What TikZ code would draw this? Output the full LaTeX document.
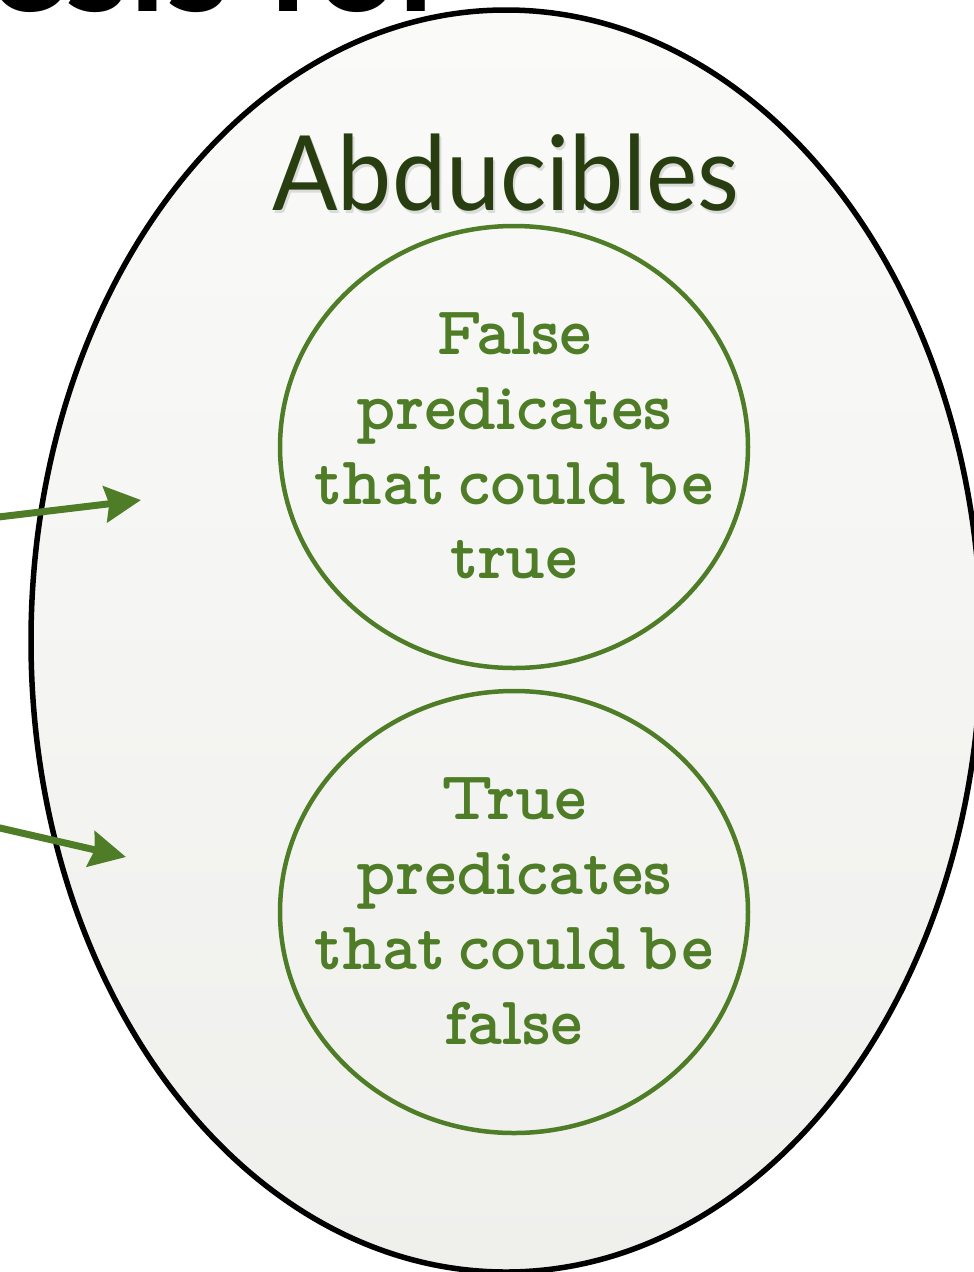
\documentclass[tikz,border=0pt]{standalone}
\usepackage{fontspec}
\usepackage{graphicx}
\newfontfamily\headfont{Lato}
\newfontfamily\bigfont{Lato Bold}
\newfontfamily\typefont{lmmonoproplt10-bold.otf}
\usetikzlibrary{arrows.meta}
\definecolor{leaf}{RGB}{79,124,38}
\definecolor{moss}{RGB}{40,62,16}
\definecolor{shelltop}{RGB}{250,251,249}
\definecolor{shellbot}{RGB}{239,240,236}
% four centred lines in the typewriter face, with tight word spaces
\newcommand{\predtext}[4]{%
  \typefont\fontsize{68.5}{74.7}\selectfont
  \spaceskip=13pt\relax
  \begin{tabular}{@{}c@{}}#1\\#2\\#3\\#4\end{tabular}}
\begin{document}
\begin{tikzpicture}[x=1pt,y=-1pt,
  predset/.style={inner sep=0pt,text=leaf},
  ring/.style={draw=leaf,line width=4.5pt},
  pointer/.style={draw=leaf,line width=7pt,-{Stealth[length=36pt,width=36pt,inset=4pt]}}]
\useasboundingbox (0,0) rectangle (974,1272);
\clip (0,0) rectangle (974,1272);
\fill[white] (0,0) rectangle (974,1272);

% heading cut by the upper edge
\node[anchor=base west,inner sep=0pt,font=\bigfont\fontsize{145}{145}\selectfont] (heading) at (-12,11.5) {esis for};

% the set of abducibles
\coordinate (abd) at (506,641);
\shade[top color=shelltop,bottom color=shellbot,draw=black,line width=5.5pt]
  (abd) ellipse [x radius=475, y radius=631];
\node[anchor=base,inner sep=0pt,text=black!60,opacity=0.2,font=\headfont\fontsize{104}{104}\selectfont] (titleshadow) at (508,213) {\scalebox{0.93}[1]{Abducibles}};
\node[anchor=base,inner sep=0pt,text=moss,font=\headfont\fontsize{104}{104}\selectfont] (title) at (506,210) {\scalebox{0.93}[1]{Abducibles}};

\node[predset] (falseset) at (514,452) {\predtext{False}{predicates}{that could be}{true}};
\draw[ring] (514,447) ellipse [x radius=234, y radius=221];
\node[predset] (trueset) at (514,917) {\predtext{True}{predicates}{that could be}{false}};
\draw[ring] (514,912) ellipse [x radius=234, y radius=221];

% pointers coming from the left
\coordinate (srcA) at (-10,518);
\coordinate (tipA) at (141,500);
\coordinate (srcB) at (-10,825.7);
\coordinate (tipB) at (126,857);
\draw[pointer] (srcA) -- (tipA);
\draw[pointer] (srcB) -- (tipB);
\end{tikzpicture}
\end{document}
